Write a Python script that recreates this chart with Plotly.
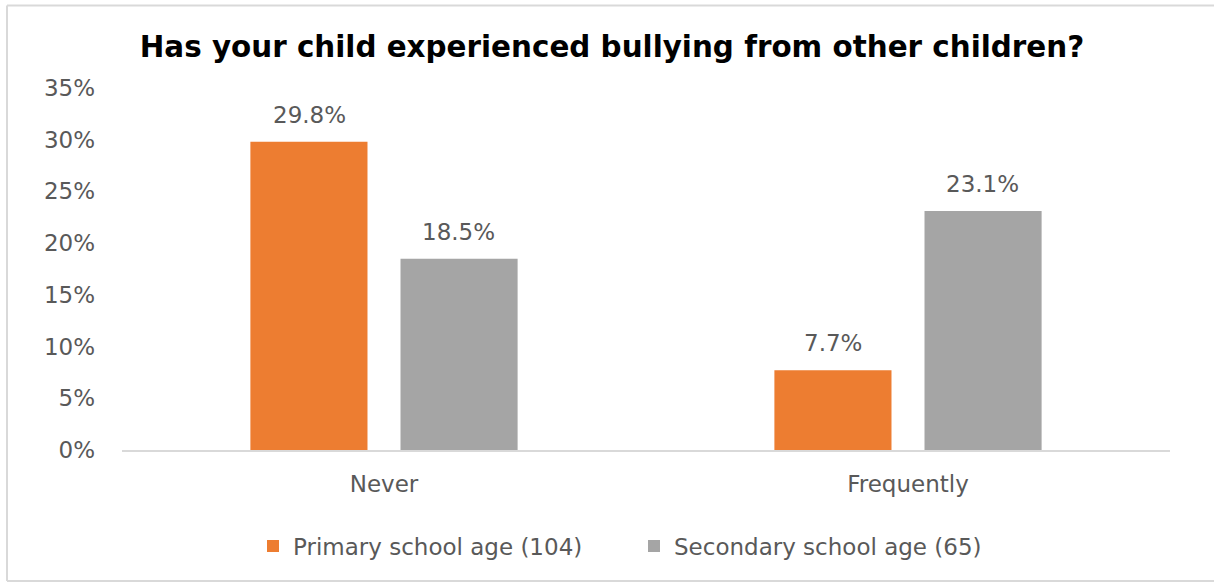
import plotly.graph_objects as go

categories = ["Never", "Frequently"]
primary_vals = [29.8, 7.7]
secondary_vals = [18.5, 23.1]
series_names = ["Primary school age (104)", "Secondary school age (65)"]
colors = ["#ED7D31", "#A5A5A5"]
title_text = "Has your child experienced bullying from other children?"

FONT = "DejaVu Sans"
TXT = "#595959"
W, H = 1214, 584

fig = go.Figure()
for name, vals, col in zip(series_names, [primary_vals, secondary_vals], colors):
    fig.add_trace(go.Bar(
        x=categories, y=vals, name=name, marker=dict(color=col, line=dict(width=0)),
        cliponaxis=False, hoverinfo="skip",
    ))

fig.update_layout(
    width=W, height=H,
    margin=dict(l=122, r=44, t=88, b=134),
    paper_bgcolor="white", plot_bgcolor="white",
    barmode="group", bargap=0.427, bargroupgap=0.22,
    title=dict(text=f"<b>{title_text}</b>", x=612 / W, xanchor="center", xref="container",
               y=1 - 47 / H, yanchor="middle", yref="container",
               font=dict(family=FONT, size=29.4, color="#000000")),
    showlegend=True,
    legend=dict(orientation="h", x=634 / W, xanchor="center", xref="container",
                y=1 - 546 / H, yanchor="middle", yref="container",
                font=dict(family=FONT, size=23, color=TXT), itemwidth=30,
                entrywidth=336, entrywidthmode="pixels",
                traceorder="normal"),
)
fig.update_yaxes(range=[0, 35], dtick=5, ticksuffix="%", showgrid=False, zeroline=False,
                 showline=False, tickfont=dict(family=FONT, size=23, color=TXT),
                 ticklabelstandoff=26)
fig.update_xaxes(showline=True, linecolor="#D9D9D9", linewidth=2, showgrid=False,
                 tickfont=dict(family=FONT, size=23, color=TXT), ticklabelstandoff=12)

# data labels above bars
for i, vals in enumerate([primary_vals, secondary_vals]):
    off = -0.143 if i == 0 else 0.143
    for j, v in enumerate(vals):
        fig.add_annotation(x=j + off, y=v, xref="x", yref="y", text=f"{v:.1f}%",
                           showarrow=False, yanchor="bottom", yshift=12,
                           font=dict(family=FONT, size=23, color=TXT))

# chart border: left, top and bottom edges
bx0 = (7 - 122) / 1048
bx1 = (1230 - 122) / 1048
by0 = (450 - 581) / 362
by1 = (450 - 5.5) / 362
border = dict(color="#D9D9D9", width=2)
fig.add_shape(type="line", xref="paper", yref="paper", x0=bx0, x1=bx0, y0=by0, y1=by1, line=border)
fig.add_shape(type="line", xref="paper", yref="paper", x0=bx0, x1=bx1, y0=by1, y1=by1, line=border)
fig.add_shape(type="line", xref="paper", yref="paper", x0=bx0, x1=bx1, y0=by0, y1=by0, line=border)

fig.write_html("out.html", config={"displayModeBar": False},
               post_script="document.body.style.margin='0';document.body.style.overflow='hidden';")
